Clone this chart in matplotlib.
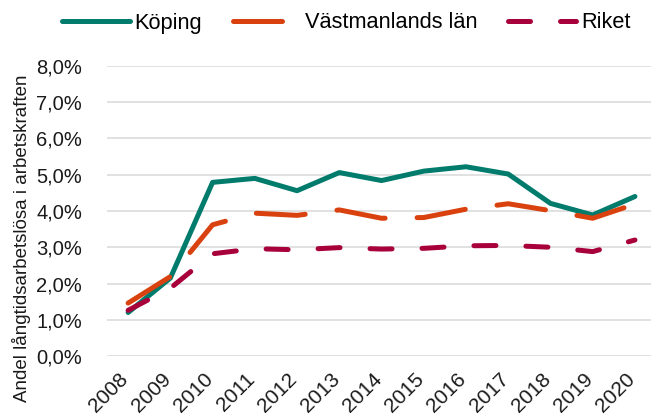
import matplotlib
matplotlib.use("Agg")
import matplotlib.pyplot as plt
import matplotlib.transforms as mtransforms
from matplotlib.ticker import FuncFormatter

plt.rcParams["font.family"] = ["Liberation Sans", "DejaVu Sans"]

years = [str(y) for y in range(2008, 2021)]
koping = [1.20, 2.15, 4.79, 4.90, 4.56, 5.06, 4.84, 5.10, 5.22, 5.02, 4.21, 3.89, 4.40]
vastmanland = [1.46, 2.19, 3.62, 3.94, 3.88, 4.03, 3.80, 3.82, 4.05, 4.20, 4.01, 3.80, 4.19]
riket = [1.26, 1.87, 2.82, 2.96, 2.93, 2.99, 2.95, 2.97, 3.04, 3.05, 3.00, 2.88, 3.20]
y_ticks = [0, 1, 2, 3, 4, 5, 6, 7, 8]

W, H = 651, 419
fig = plt.figure(figsize=(W / 100, H / 100), dpi=100)
# plot area in pixels: left 107, right 651, top 66, bottom 356
ax = fig.add_axes([107 / W, (H - 356) / H, (651 - 107) / W, (356 - 66) / H])

x = range(len(years))
lw = 3.6
ax.plot(x, koping, color="#007B6C", lw=lw, solid_capstyle="round",
        solid_joinstyle="round", label="Köping", zorder=3)
ax.plot(x, vastmanland, color="#D9420F", lw=lw, linestyle=(0, (9.8, 6.4)),
        dash_capstyle="round", dash_joinstyle="round", label="Västmanlands län", zorder=3)
ax.plot(x, riket, color="#A8003A", lw=lw, linestyle=(0, (4.4, 6.0)),
        dash_capstyle="round", dash_joinstyle="round", label="Riket", zorder=3)

ax.set_xlim(-0.5, 12.38)
ax.set_ylim(0, 8)
ax.set_yticks(y_ticks)
ax.yaxis.set_major_formatter(FuncFormatter(lambda v, p: f"{v:.1f}%".replace(".", ",")))
ax.set_xticks(list(x))
ax.set_xticklabels(years, rotation=45, ha="right")
ax.tick_params(axis="y", length=0, pad=18, labelsize=14.5, colors="#1a1a1a")
ax.tick_params(axis="x", length=0, pad=10, labelsize=15, colors="#1a1a1a")
offset = mtransforms.ScaledTranslation(4 / 100, 0, fig.dpi_scale_trans)
for lab in ax.get_xticklabels():
    lab.set_transform(lab.get_transform() + offset)

ax.grid(axis="y", color="#d9d9d9", lw=1.1, zorder=0)
ax.set_axisbelow(True)
for s in ax.spines.values():
    s.set_visible(False)

fig.text(22 / W, 1 - 238 / H, "Andel långtidsarbetslösa i arbetskraften",
         rotation=90, ha="center", va="center", fontsize=13.5, color="#1a1a1a")

fig.legend(loc="center left", bbox_to_anchor=(62 / W, 1 - 23 / H), ncol=3,
           frameon=False, fontsize=15.7, handlelength=3.1, handletextpad=0.23,
           columnspacing=1.4, borderaxespad=0, borderpad=0)

fig.savefig("out.png", dpi=100)
